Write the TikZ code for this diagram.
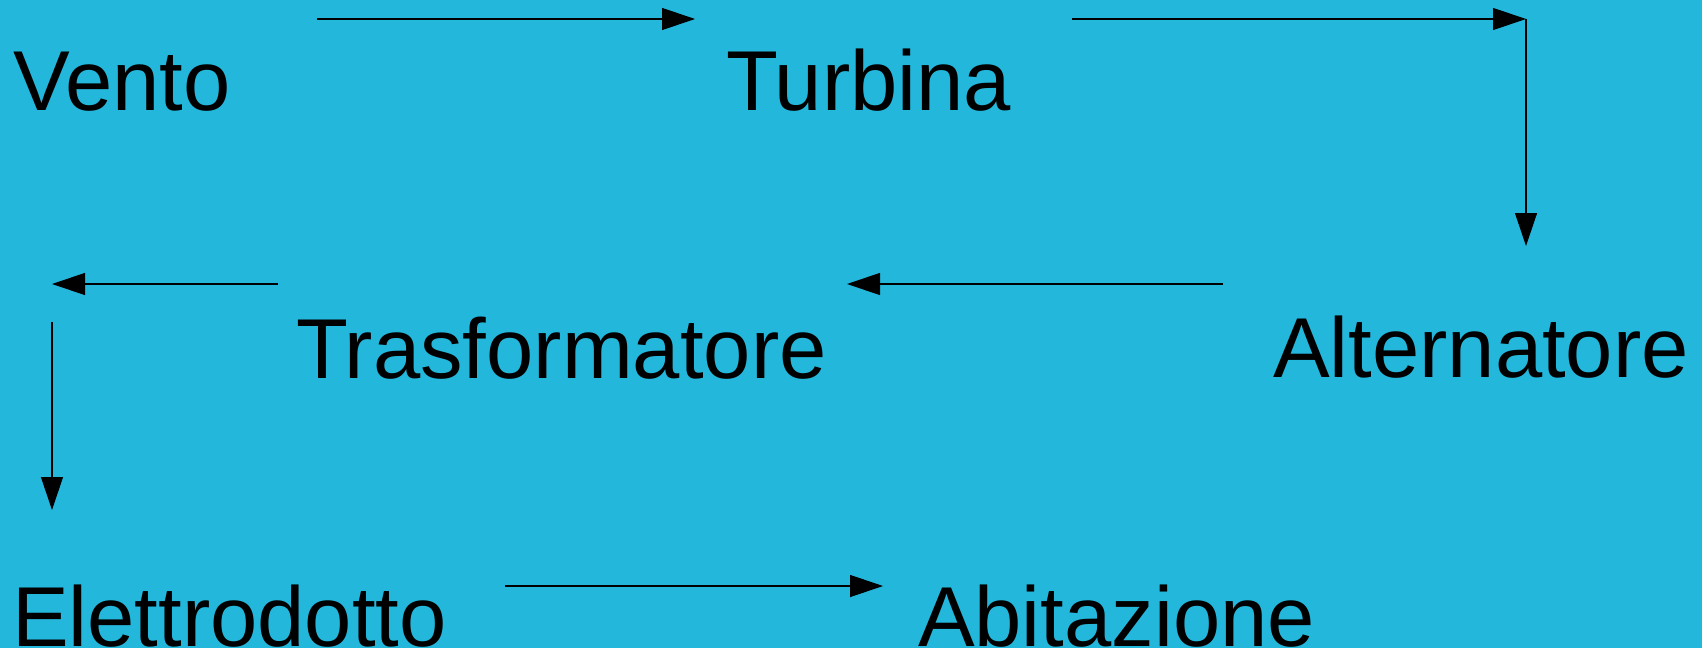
\documentclass[tikz,border=0pt]{standalone}
\usepackage{fontspec}
\setmainfont{Liberation Sans}
\usetikzlibrary{arrows.meta}
\definecolor{bg}{RGB}{36,183,220}
\begin{document}
\begin{tikzpicture}[x=0.5pt,y=-0.5pt,
  lbl/.style={anchor=base west,inner sep=0pt,outer sep=0pt,font=\fontsize{42.5}{50}\selectfont},
  conn/.style={draw=black,line width=0.6pt,-{Triangle[length=16.5pt,width=11pt]}}]
\fill[bg] (0,0) rectangle (1702,648);
\useasboundingbox (0,0) rectangle (1702,648);
\node[lbl] (vento) at (13,110) {Vento};
\node[lbl] (turbina) at (726,110) {Turbina};
\node[lbl] (alternatore) at (1273,377) {Alternatore};
\node[lbl] (trasformatore) at (296,378) {Trasformatore};
\node[lbl] (elettrodotto) at (12,646) {Elettrodotto};
\node[lbl] (abitazione) at (918,646) {Abitazione};
\coordinate (a1s) at (317,19);
\coordinate (a1e) at (695,19);
\coordinate (a2s) at (1072,19);
\coordinate (a2e) at (1526,19);
\coordinate (a3e) at (1526,246);
\coordinate (a4s) at (1223,284);
\coordinate (a4e) at (847,284);
\coordinate (a5s) at (278,284);
\coordinate (a5e) at (52,284);
\coordinate (a6s) at (52,322);
\coordinate (a6e) at (52,510);
\coordinate (a7s) at (505,586);
\coordinate (a7e) at (883,586);
\draw[conn] (a1s) -- (a1e);
\draw[conn] (a2s) -- (a2e);
\draw[conn] (a2e) -- (a3e);
\draw[conn] (a4s) -- (a4e);
\draw[conn] (a5s) -- (a5e);
\draw[conn] (a6s) -- (a6e);
\draw[conn] (a7s) -- (a7e);
\end{tikzpicture}
\end{document}
